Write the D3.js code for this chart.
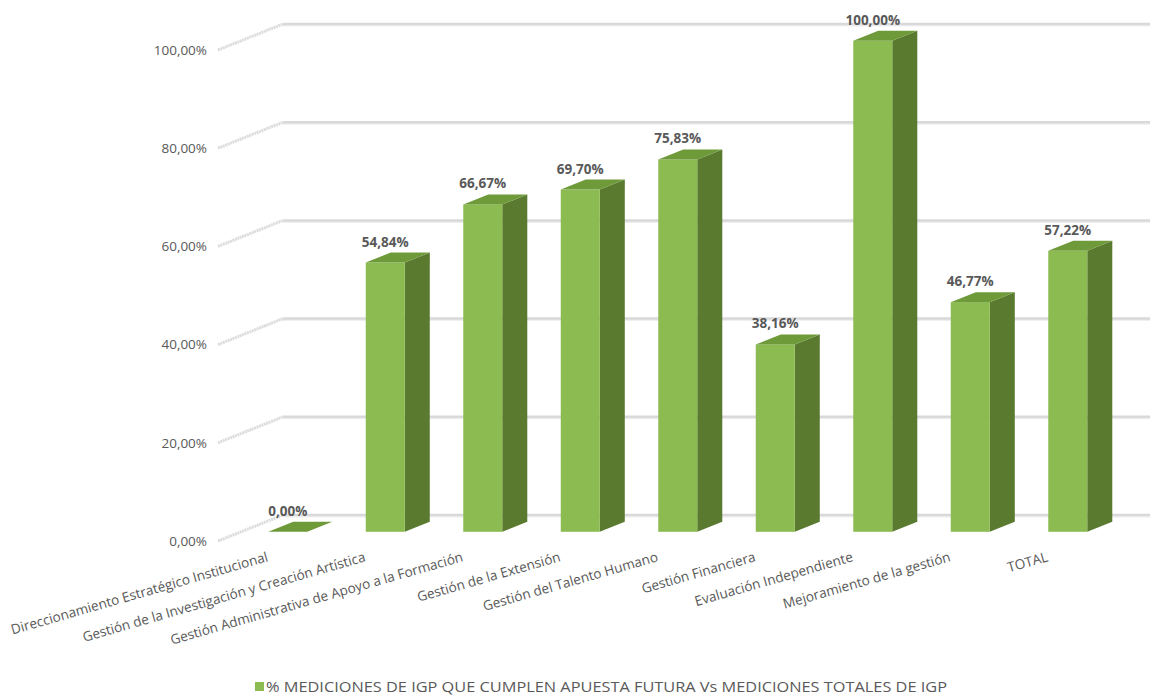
<!DOCTYPE html>
<html>
<head>
<meta charset="utf-8">
<script src="https://cdn.jsdelivr.net/npm/d3@7"></script>
<style>
  html, body { margin: 0; padding: 0; background: #ffffff; }
  svg { display: block; }
</style>
</head>
<body>
<svg id="chart" width="1150" height="696"></svg>
<script>
// Procesos evaluados
const categories = [
  "Direccionamiento Estratégico Institucional",
  "Gestión de la Investigación y Creación Artística",
  "Gestión Administrativa de Apoyo a la Formación",
  "Gestión de la Extensión",
  "Gestión del Talento Humano",
  "Gestión Financiera",
  "Evaluación Independiente",
  "Mejoramiento de la gestión",
  "TOTAL"
];
// % de mediciones IGP que cumplen la apuesta futura
const values = [0.00, 54.84, 66.67, 69.70, 75.83, 38.16, 100.00, 46.77, 57.22];
const valueLabels = ["0,00%", "54,84%", "66,67%", "69,70%", "75,83%", "38,16%", "100,00%", "46,77%", "57,22%"];
const tickValues = [0, 20, 40, 60, 80, 100];
const tickLabels = ["0,00%", "20,00%", "40,00%", "60,00%", "80,00%", "100,00%"];
const seriesName = "% MEDICIONES DE IGP QUE CUMPLEN APUESTA FUTURA Vs MEDICIONES TOTALES DE IGP";

const svg = d3.select("#chart");
const font = "'Open Sans', 'Noto Sans', sans-serif";
const textColor = "#595959";

// 3D box geometry: front plane of the frame and the depth vector to the back wall
const frontX = 218;
const depth = { dx: 65, dy: -26 };
const barFrontT = 0.354;   // bars start this far into the depth
const barDepthT = 0.385;   // and are this deep

const yFront = d3.scaleLinear().domain([0, 100]).range([541, 50]);
const yBack = v => yFront(v) + depth.dy;
const backX = frontX + depth.dx;

// category scale on the front plane
const x = d3.scaleBand()
  .domain(categories)
  .range([frontX - 2, frontX - 2 + 9 * 97.5])
  .paddingInner(0.6)
  .paddingOuter(0.3);

const bfx = depth.dx * barFrontT, bfy = depth.dy * barFrontT;
const sdx = depth.dx * barDepthT, sdy = depth.dy * barDepthT;

// ---- gridlines: short diagonal on the side wall + line on the back wall
const grid = svg.append("g");
tickValues.forEach(v => {
  grid.append("line")
    .attr("x1", frontX).attr("y1", yFront(v))
    .attr("x2", backX).attr("y2", yBack(v))
    .attr("stroke", "#dcdcdc").attr("stroke-width", 3)
    .attr("stroke-dasharray", "2,0.6");
  grid.append("line")
    .attr("x1", backX).attr("y1", yBack(v) + 1.5)
    .attr("x2", 1150).attr("y2", yBack(v) + 1.5)
    .attr("stroke", "#efefef").attr("stroke-width", 2);
  grid.append("line")
    .attr("x1", backX).attr("y1", yBack(v))
    .attr("x2", 1150).attr("y2", yBack(v))
    .attr("stroke", "#d9d9d9").attr("stroke-width", 2.5);
});

// ---- y tick labels
svg.append("g").selectAll("text")
  .data(tickValues)
  .join("text")
  .attr("x", frontX - 11)
  .attr("y", d => yFront(d))
  .attr("dy", "0.35em")
  .attr("text-anchor", "end")
  .attr("font-family", font)
  .attr("font-size", 13.5)
  .attr("fill", textColor)
  .text((d, i) => tickLabels[i]);

// ---- bars (front face, side face, top face)
const bars = svg.append("g").selectAll("g")
  .data(values)
  .join("g");

bars.each(function (v, i) {
  const g = d3.select(this);
  const x0 = x(categories[i]) + bfx;
  const x1 = x0 + x.bandwidth();
  const yb = yFront(0) + bfy;
  const yt = yFront(v) + bfy;
  // side
  g.append("path")
    .attr("d", `M${x1},${yb} L${x1 + sdx},${yb + sdy} L${x1 + sdx},${yt + sdy} L${x1},${yt} Z`)
    .attr("fill", "#5a7a2f");
  // front
  if (v > 0) {
    g.append("rect")
      .attr("x", x0).attr("y", yt)
      .attr("width", x.bandwidth()).attr("height", yb - yt)
      .attr("fill", "#8cbb51");
  }
  // top
  g.append("path")
    .attr("d", `M${x0},${yt} L${x1},${yt} L${x1 + sdx},${yt + sdy} L${x0 + sdx},${yt + sdy} Z`)
    .attr("fill", "#6e9a3a");
});

// ---- value labels
svg.append("g").selectAll("text")
  .data(values)
  .join("text")
  .attr("x", (d, i) => x(categories[i]) + bfx + x.bandwidth() / 2)
  .attr("y", d => yFront(d) + bfy - 16)
  .attr("text-anchor", "middle")
  .attr("font-family", font)
  .attr("font-size", 13.5)
  .attr("font-weight", "bold")
  .attr("fill", textColor)
  .text((d, i) => valueLabels[i]);

// ---- category labels (rotated)
svg.append("g").selectAll("text")
  .data(categories)
  .join("text")
  .attr("transform", d => {
    const cx = x(d) + bfx + x.bandwidth() / 2 - 19;
    return `translate(${cx},561) rotate(-16)`;
  })
  .attr("text-anchor", "end")
  .attr("font-family", font)
  .attr("font-size", 13.6)
  .attr("fill", textColor)
  .text(d => d);

// ---- legend
const legend = svg.append("g").attr("transform", "translate(255,687)");
legend.append("rect")
  .attr("x", 0).attr("y", -5)
  .attr("width", 9).attr("height", 9)
  .attr("fill", "#8cbb51");
legend.append("text")
  .attr("x", 11).attr("y", 0)
  .attr("dy", "0.35em")
  .attr("font-family", font)
  .attr("font-size", 14)
  .attr("fill", textColor)
  .attr("textLength", 681)
  .attr("lengthAdjust", "spacingAndGlyphs")
  .text(seriesName);
</script>
</body>
</html>
